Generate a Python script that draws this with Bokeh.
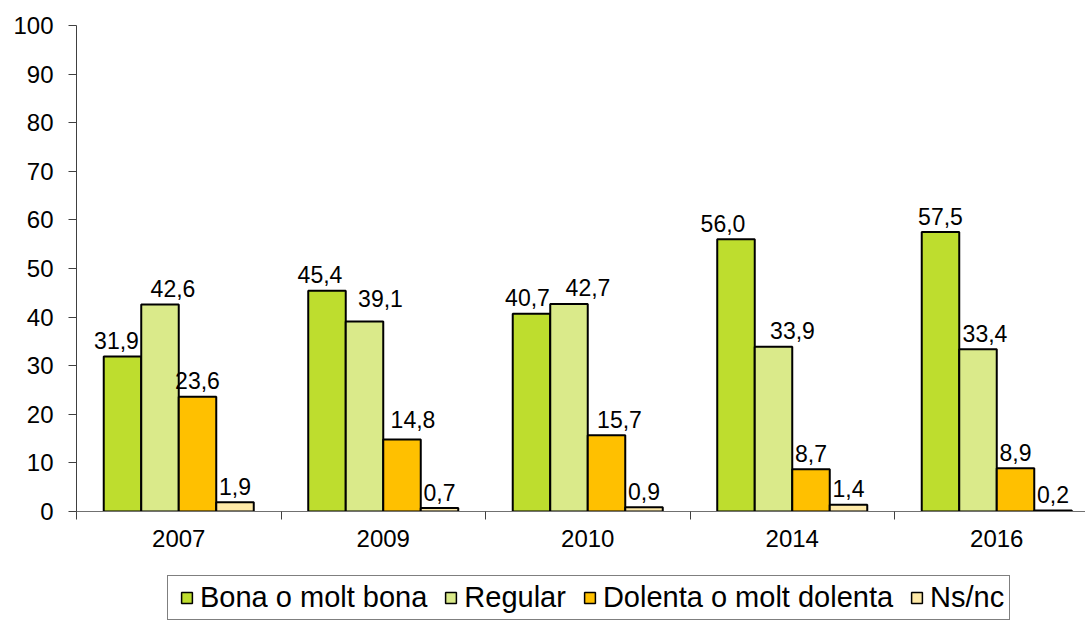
from bokeh.plotting import figure
from bokeh.layouts import column
from bokeh.models import (ColumnDataSource, Range1d, FixedTicker, Legend, LegendItem)
from bokeh.core.properties import value
from bokeh.embed import file_html
from bokeh.resources import INLINE

# ---- data ----
years = ["2007", "2009", "2010", "2014", "2016"]
bona = [31.9, 45.4, 40.7, 56.0, 57.5]
regular = [42.6, 39.1, 42.7, 33.9, 33.4]
dolenta = [23.6, 14.8, 15.7, 8.7, 8.9]
nsnc = [1.9, 0.7, 0.9, 1.4, 0.2]
series_names = ["Bona o molt bona", "Regular", "Dolenta o molt dolenta", "Ns/nc"]
y_ticks = list(range(0, 101, 10))

# ---- styling / label placement (pixels) ----
colors = ["#BEDD2E", "#DAEA8A", "#FFC000", "#FFEAA8"]
label_dx = [[-6, -7, -4, -13, 0],
            [13, 16, 19, 19, 7],
            [0, 11, 13, 0, 0],
            [0, 0, 0, 0, 0]]
label_dy = [[0, 0, 0, 0, 0],
            [0, -7, 0, 0, 0],
            [0, -4, 0, 0, 0],
            [0, 0, 0, 0, 0]]

FONT = "Liberation Sans"
W = 1085
H1, H2 = 560, 60
frame_left, frame_top = 76, 25
frame_w = W - frame_left
cat_px = 204.5
bar_w = 0.1834

p = figure(width=W, height=H1, output_backend="svg", toolbar_location=None,
           x_range=Range1d(0, frame_w / cat_px), y_range=Range1d(0, 100),
           min_border_left=frame_left, min_border_right=0,
           min_border_top=frame_top, min_border_bottom=H1 - 511)
p.outline_line_color = None
p.xgrid.grid_line_color = None
p.ygrid.grid_line_color = None
p.background_fill_color = "white"
p.border_fill_color = "white"

# legend strip (second figure, same data, markers kept outside its visible range)
p2 = figure(width=W, height=H2, output_backend="svg", toolbar_location=None,
            x_range=p.x_range, y_range=Range1d(1000, 1001),
            x_axis_location=None, y_axis_location=None,
            min_border_left=0, min_border_right=0, min_border_top=0, min_border_bottom=0)
p2.outline_line_color = None
p2.xgrid.grid_line_color = None
p2.ygrid.grid_line_color = None

all_series = [bona, regular, dolenta, nsnc]
centers = [i + 0.5 for i in range(len(years))]
legend_renderers = []
for k, vals in enumerate(all_series):
    xs = [c + (k - 1.5) * bar_w for c in centers]
    src = ColumnDataSource(dict(
        x=xs, top=vals,
        lbl=[f"{v:.1f}".replace(".", ",") for v in vals],
        dx=label_dx[k], dy=[-16 + d for d in label_dy[k]]))
    p.vbar(x="x", top="top", width=bar_w, bottom=0, source=src,
           fill_color=colors[k], line_color="black", line_width=2)
    p.text(x="x", y="top", text="lbl", source=src, x_offset="dx", y_offset="dy",
           text_align="center", text_baseline="alphabetic",
           text_font=value(FONT), text_font_size="23px", text_color="black")
    r2 = p2.scatter(x="x", y="top", source=src, marker="square", size=11,
                    fill_color=colors[k], line_color="black", line_width=1.5)
    legend_renderers.append(r2)

# x axis
xa = p.xaxis[0]
xa.ticker = FixedTicker(ticks=centers, minor_ticks=list(range(0, len(years) + 1)))
xa.major_label_overrides = {c: y for c, y in zip(centers, years)}
xa.major_tick_out = 0
xa.major_tick_in = 0
xa.minor_tick_out = 8
xa.minor_tick_in = 0
xa.minor_tick_line_color = "#404040"
xa.axis_line_color = "#707070"
xa.axis_line_width = 1
xa.major_label_standoff = 10
xa.major_label_text_font = FONT
xa.major_label_text_font_size = "24px"
xa.major_label_text_color = "black"

# y axis
ya = p.yaxis[0]
ya.ticker = FixedTicker(ticks=y_ticks, minor_ticks=[])
ya.major_tick_out = 8
ya.major_tick_in = 0
ya.major_tick_line_color = "#404040"
ya.axis_line_color = "#404040"
ya.major_label_standoff = 15
ya.major_label_text_font = FONT
ya.major_label_text_font_size = "24px"
ya.major_label_text_color = "black"

legend = Legend(items=[LegendItem(label=n, renderers=[r]) for n, r in zip(series_names, legend_renderers)],
                location=(91, 0), orientation="horizontal",
                glyph_width=27, glyph_height=27, label_standoff=0, spacing=10,
                padding=5, margin=0,
                label_text_font=FONT, label_text_font_size="29px", label_text_color="black",
                border_line_color="black", border_line_width=1,
                background_fill_color="white", background_fill_alpha=1)
p2.add_layout(legend)

layout = column(p, p2, spacing=0)
open("out.html", "w").write(file_html(layout, INLINE))
